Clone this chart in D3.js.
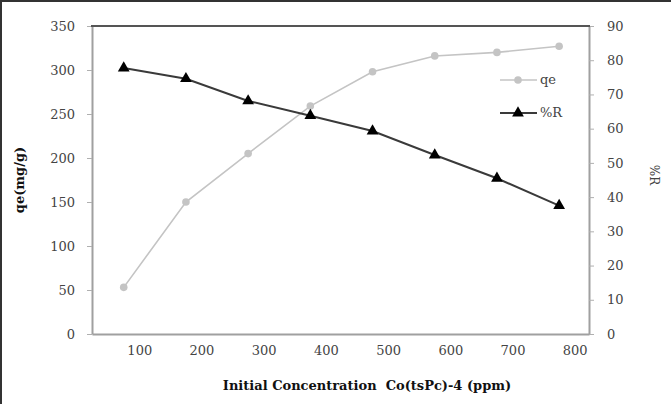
<!DOCTYPE html>
<html>
<head>
<meta charset="utf-8">
<script src="https://cdn.jsdelivr.net/npm/d3@7"></script>
<style>
  body { margin: 0; background: #fff; }
  svg { display: block; }
</style>
</head>
<body>
<svg id="chart"></svg>
<script>
// data
const concentration = [75, 175, 275, 375, 475, 575, 675, 775];
const qeValues = [53, 150, 205, 259, 298, 316, 320, 327];
const removalValues = [77.7, 74.6, 68.1, 63.8, 59.3, 52.3, 45.5, 37.5];
const xTicks = [100, 200, 300, 400, 500, 600, 700, 800];
const qeTicks = [0, 50, 100, 150, 200, 250, 300, 350];
const rTicks = [0, 10, 20, 30, 40, 50, 60, 70, 80, 90];

const width = 671;
const height = 404;
const plot = { left: 92, right: 589, top: 26, bottom: 334 };
const font = "DejaVu Serif, serif";

const svg = d3.select('#chart')
  .attr('width', width)
  .attr('height', height);

// outer frame (top and left edges visible)
svg.append('line')
  .attr('x1', 0).attr('x2', width).attr('y1', 1).attr('y2', 1)
  .attr('stroke', '#333').attr('stroke-width', 2);
svg.append('line')
  .attr('x1', 1).attr('x2', 1).attr('y1', 0).attr('y2', height)
  .attr('stroke', '#333').attr('stroke-width', 2);

// scales
const xScale = d3.scaleLinear()
  .domain([24, 823])
  .range([plot.left, plot.right]);

const yLeft = d3.scaleLinear()
  .domain([0, 350])
  .range([plot.bottom, plot.top]);

const yRight = d3.scaleLinear()
  .domain([0, 90])
  .range([plot.bottom, plot.top]);

// axes
const styleAxis = (axis) => {
  axis.attr('font-family', font).attr('font-size', 13);
  axis.select('.domain').attr('stroke', '#a0a0a0').attr('stroke-width', 2);
  axis.selectAll('.tick line').attr('stroke', '#b0b0b0').attr('stroke-width', 1);
  axis.selectAll('.tick text').attr('fill', '#444');
};

const leftAxis = svg.append('g')
  .attr('transform', `translate(${plot.left}, 0)`)
  .call(d3.axisLeft(yLeft).tickValues(qeTicks).tickSize(5).tickSizeOuter(0).tickPadding(12));
styleAxis(leftAxis);

const rightAxis = svg.append('g')
  .attr('transform', `translate(${plot.right}, 0)`)
  .call(d3.axisRight(yRight).tickValues(rTicks).tickSize(5).tickSizeOuter(0).tickPadding(13));
styleAxis(rightAxis);

const bottomAxis = svg.append('g')
  .attr('transform', `translate(0, ${plot.bottom})`)
  .call(d3.axisBottom(xScale).tickValues(xTicks).tickSize(0).tickSizeOuter(0).tickPadding(12));
styleAxis(bottomAxis);

// top edge of plot area
svg.append('line')
  .attr('x1', plot.left - 1).attr('x2', plot.right + 1)
  .attr('y1', plot.top).attr('y2', plot.top)
  .attr('stroke', '#555').attr('stroke-width', 2);

// series
const qeData = concentration.map((c, i) => ({ x: c, y: qeValues[i] }));
const rData = concentration.map((c, i) => ({ x: c, y: removalValues[i] }));

const qeLine = d3.line().x(d => xScale(d.x)).y(d => yLeft(d.y));
const rLine = d3.line().x(d => xScale(d.x)).y(d => yRight(d.y));

svg.append('path')
  .datum(qeData)
  .attr('fill', 'none')
  .attr('stroke', '#c4c4c4')
  .attr('stroke-width', 1.6)
  .attr('d', qeLine);

svg.selectAll('.qe-dot')
  .data(qeData)
  .enter().append('circle')
  .attr('class', 'qe-dot')
  .attr('cx', d => xScale(d.x))
  .attr('cy', d => yLeft(d.y))
  .attr('r', 3.8)
  .attr('fill', '#c4c4c4');

svg.append('path')
  .datum(rData)
  .attr('fill', 'none')
  .attr('stroke', '#3a3a3a')
  .attr('stroke-width', 2)
  .attr('d', rLine);

const triangle = d3.symbol().type(d3.symbolTriangle).size(60);

svg.selectAll('.r-dot')
  .data(rData)
  .enter().append('path')
  .attr('class', 'r-dot')
  .attr('transform', d => `translate(${xScale(d.x)}, ${yRight(d.y)})`)
  .attr('d', triangle)
  .attr('fill', '#000');

// legend
const legend = svg.append('g')
  .attr('font-family', font).attr('font-size', 13);
legend.append('line')
  .attr('x1', 500).attr('x2', 537).attr('y1', 80).attr('y2', 80)
  .attr('stroke', '#c4c4c4').attr('stroke-width', 1.6);
legend.append('circle')
  .attr('cx', 518).attr('cy', 80).attr('r', 3.8).attr('fill', '#c4c4c4');
legend.append('text')
  .attr('x', 540).attr('y', 84)
  .attr('fill', '#444')
  .text('qe');

legend.append('line')
  .attr('x1', 500).attr('x2', 537).attr('y1', 113).attr('y2', 113)
  .attr('stroke', '#3a3a3a').attr('stroke-width', 2);
legend.append('path')
  .attr('transform', 'translate(518, 113)')
  .attr('d', triangle)
  .attr('fill', '#000');
legend.append('text')
  .attr('x', 540).attr('y', 117)
  .attr('fill', '#444')
  .text('%R');

// axis titles
svg.append('text')
  .attr('transform', 'translate(24, 180) rotate(-90)')
  .attr('text-anchor', 'middle')
  .attr('fill', '#111')
  .attr('font-family', font).attr('font-size', 13).attr('font-weight', 'bold')
  .text('qe(mg/g)');

svg.append('text')
  .attr('transform', 'translate(650, 175) rotate(90)')
  .attr('text-anchor', 'middle')
  .attr('fill', '#444')
  .attr('font-family', font).attr('font-size', 12)
  .text('%R');

svg.append('text')
  .attr('x', 367).attr('y', 390)
  .attr('text-anchor', 'middle')
  .attr('fill', '#111')
  .attr('font-family', font).attr('font-size', 13).attr('font-weight', 'bold')
  .attr('xml:space', 'preserve')
  .text('Initial Concentration  Co(tsPc)-4 (ppm)');
</script>
</body>
</html>
